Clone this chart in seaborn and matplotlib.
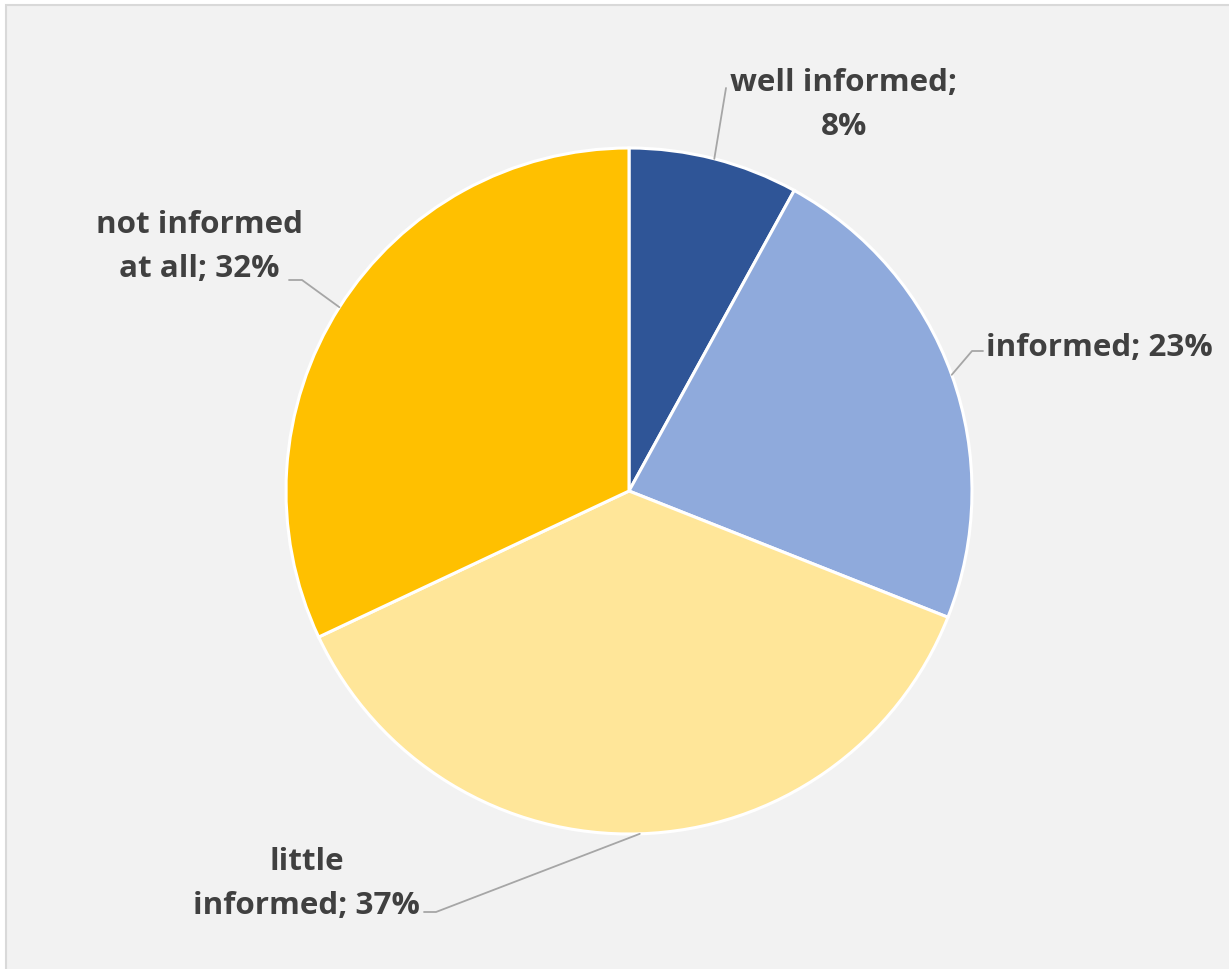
import numpy as np
import matplotlib
matplotlib.use("Agg")
import matplotlib.pyplot as plt
from matplotlib.patches import Rectangle
import seaborn as sns

# Survey: how well informed respondents feel
categories = ["well informed", "informed", "little\ninformed", "not informed\nat all"]
shares = [8, 23, 37, 32]
colors = ["#2F5597", "#8FAADC", "#FFE699", "#FFC000"]

sns.set_theme(style="white")
plt.rcParams["font.family"] = ["Open Sans", "DejaVu Sans"]

W, H = 1229, 970
fig = plt.figure(figsize=(W / 100, H / 100), dpi=100)
fig.patch.set_facecolor("white")
ax = fig.add_axes([0, 0, 1, 1])

# chart area panel
ax.add_patch(Rectangle((5.5, -10), W + 20, H - 5.5 + 10, facecolor="#F2F2F2",
                       edgecolor="#D9D9D9", linewidth=1.5, zorder=0))

cx, cy, r = 629, H - 492, 343
wedges, _ = ax.pie(shares, colors=colors, startangle=90, counterclock=False,
                   center=(cx, cy), radius=r, frame=True,
                   wedgeprops=dict(edgecolor="white", linewidth=2.2))
ax.set_xlim(0, W)
ax.set_ylim(0, H)
ax.set_axis_off()

# label layout: (elbow points in pixels from top-left, text anchor, alignment)
layout = [
    ([(726, 89)], (844, 105), "center"),
    ([(972, 352), (983, 352)], (986, 348), "left"),
    ([(436, 913), (424, 913)], (420, 884), "right"),
    ([(302, 281), (289, 281)], (303, 247), "right"),
]


def label_text(name, val):
    if "\n" in name:
        return f"{name}; {val}%"
    if val < 10:
        return f"{name};\n{val}%"
    return f"{name}; {val}%"


total = sum(shares)
cum = 0
for name, val, (pts, (tx, ty), ha) in zip(categories, shares, layout):
    mid = 90 - 360 * (cum + val / 2) / total
    cum += val
    ex = cx + r * np.cos(np.radians(mid))
    ey = cy + r * np.sin(np.radians(mid))
    xs = [ex] + [p[0] for p in pts]
    ys = [ey] + [H - p[1] for p in pts]
    ax.plot(xs, ys, color="#A6A6A6", linewidth=1.3, zorder=3)
    ax.text(tx, H - ty, label_text(name, val),
            ha=ha, va="center", multialignment="center", fontsize=22.6,
            fontweight="bold", color="#404040", linespacing=1.65, zorder=4)

fig.savefig("out.png", dpi=100, facecolor=fig.get_facecolor())
